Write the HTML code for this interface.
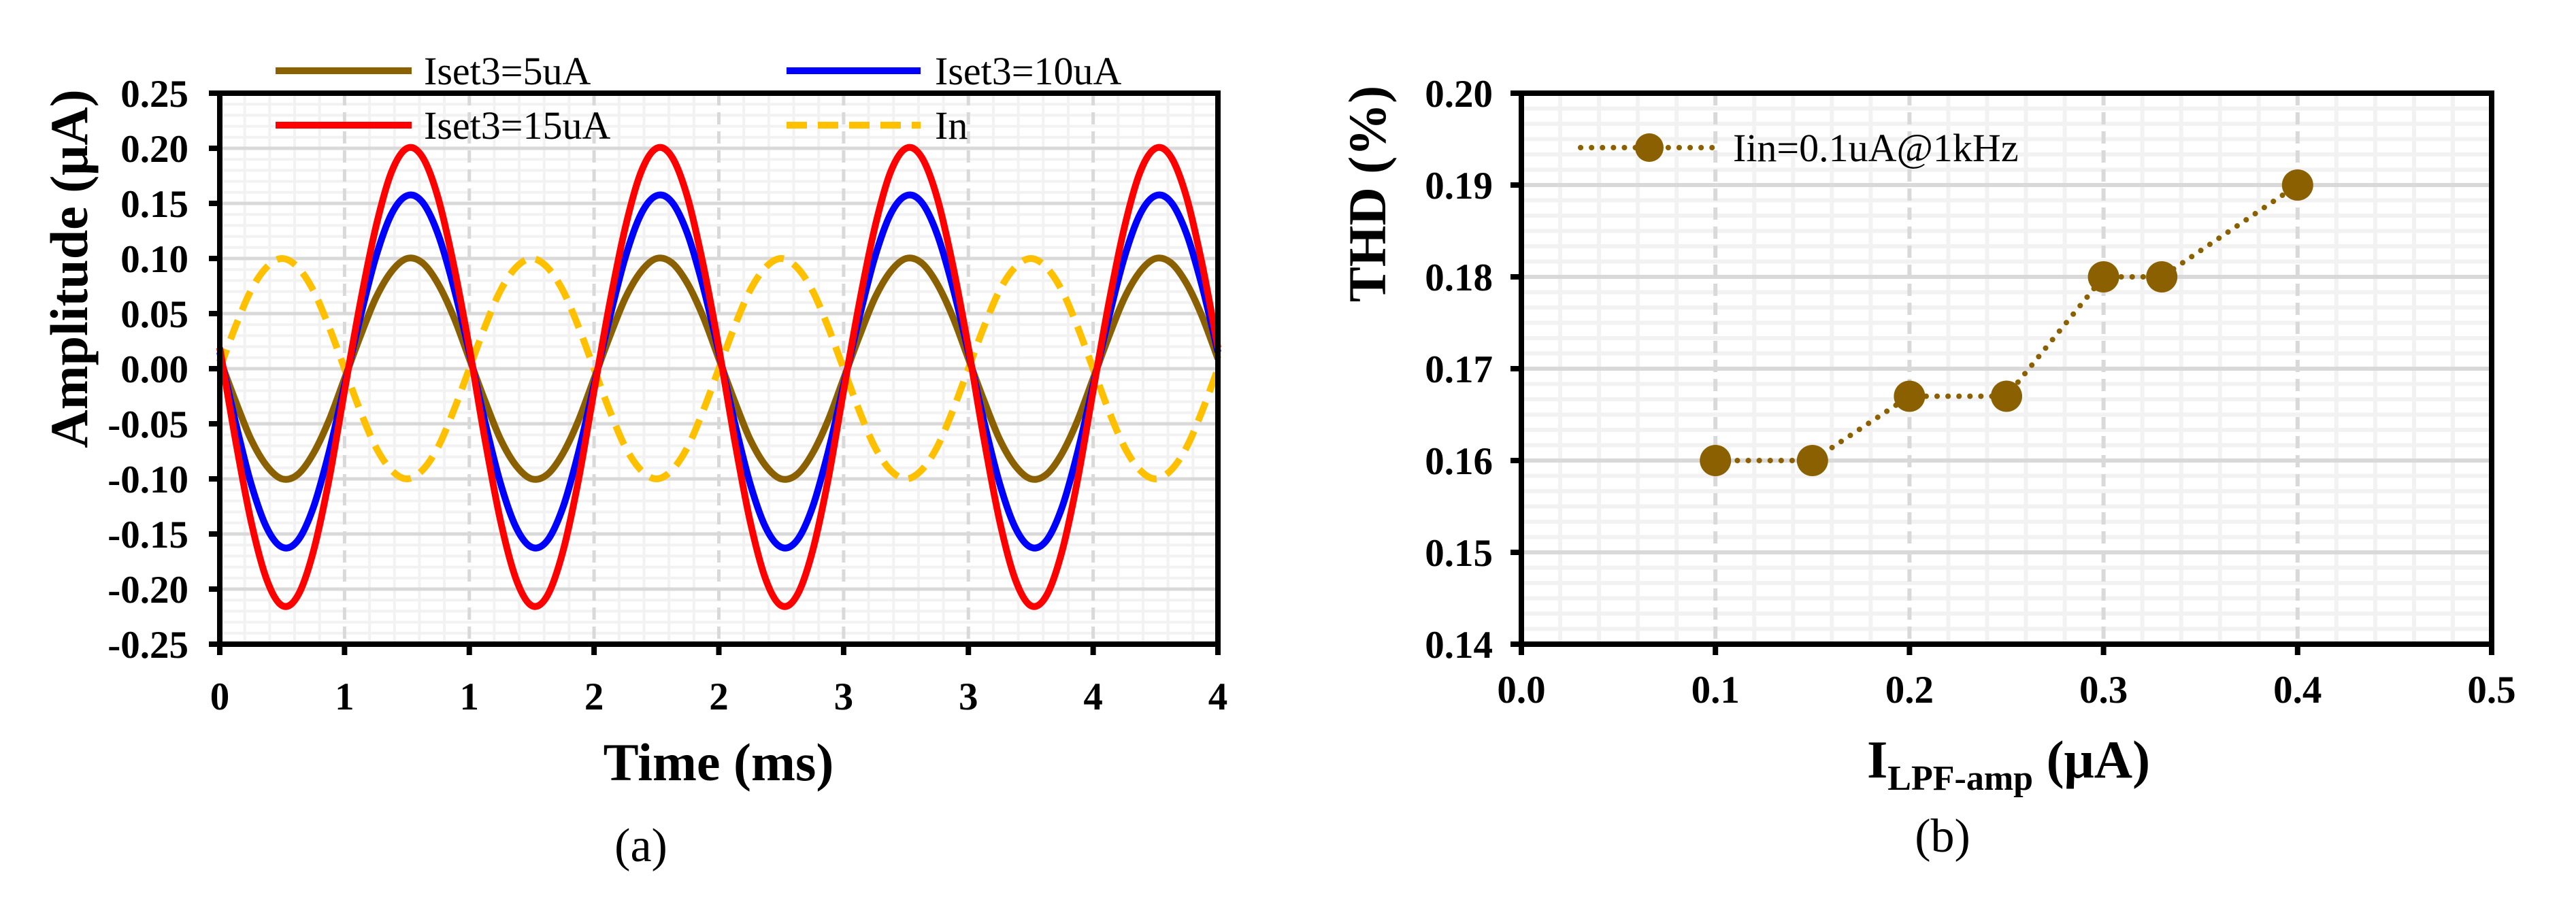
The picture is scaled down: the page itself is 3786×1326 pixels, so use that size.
<!DOCTYPE html>
<html><head><meta charset="utf-8">
<style>
html,body{margin:0;padding:0;background:#fff;}
svg{display:block;}
text{font-family:"Liberation Serif","DejaVu Serif",serif;}
</style></head>
<body>
<svg id="fig" width="3786" height="1326" viewBox="0 0 3786 1326" xmlns="http://www.w3.org/2000/svg" font-family="Liberation Serif, serif">
  <g id="chartA"></g>
  <g id="chartB"></g>
</svg>
<script>
// ---------- Chart (a) data: one period (1 ms) sampled every 1/16 ms, repeated over 4 ms ----------
const periodSamplesIset5 = [0.009,-0.029,-0.064,-0.088,-0.100,-0.096,-0.077,-0.047,-0.009,0.029,0.064,0.088,0.100,0.096,0.077,0.047];
const periodSamplesIset10 = [0.015,-0.048,-0.104,-0.144,-0.162,-0.156,-0.126,-0.076,-0.015,0.046,0.101,0.140,0.157,0.151,0.122,0.074];
const periodSamplesIset15 = [0.019,-0.064,-0.138,-0.191,-0.215,-0.206,-0.166,-0.101,-0.020,0.059,0.128,0.178,0.200,0.192,0.155,0.094];
const periodSamplesIn = [0,0.038,0.071,0.092,0.100,0.092,0.071,0.038,0,-0.038,-0.071,-0.092,-0.100,-0.092,-0.071,-0.038];
const periodsShown = 4;
const aYTicks = [-0.25,-0.20,-0.15,-0.10,-0.05,0.00,0.05,0.10,0.15,0.20,0.25];
const aXTicks = [0,0.5,1,1.5,2,2.5,3,3.5,4];
const aXTickLabels = ["0","1","1","2","2","3","3","4","4"];
const aLegend = ["Iset3=5uA","Iset3=10uA","Iset3=15uA","In"];

// ---------- Chart (b) data ----------
const bX = [0.1,0.15,0.2,0.25,0.3,0.33,0.4];
const bY = [0.16,0.16,0.167,0.167,0.18,0.18,0.19];
const bXTicks = [0.0,0.1,0.2,0.3,0.4,0.5];
const bXTickLabels = ["0.0","0.1","0.2","0.3","0.4","0.5"];
const bYTicks = [0.14,0.15,0.16,0.17,0.18,0.19,0.20];
const bYTickLabels = ["0.14","0.15","0.16","0.17","0.18","0.19","0.20"];
const bLegend = "Iin=0.1uA@1kHz";

const NS = "http://www.w3.org/2000/svg";
const FONT = "Liberation Serif, serif";
function mk(parent, tag, attrs, text){
  const e = document.createElementNS(NS, tag);
  for (const k in attrs) e.setAttribute(k, attrs[k]);
  if (tag === 'text') e.setAttribute('font-family', FONT);
  if (text !== undefined) e.textContent = text;
  parent.appendChild(e);
  return e;
}
function smoothPath(pts){
  let d = "M"+pts[0][0].toFixed(1)+","+pts[0][1].toFixed(1);
  for (let i=0;i<pts.length-1;i++){
    const p0=pts[Math.max(0,i-1)], p1=pts[i], p2=pts[i+1], p3=pts[Math.min(pts.length-1,i+2)];
    const c1x=p1[0]+(p2[0]-p0[0])/6, c1y=p1[1]+(p2[1]-p0[1])/6;
    const c2x=p2[0]-(p3[0]-p1[0])/6, c2y=p2[1]-(p3[1]-p1[1])/6;
    d+=" C"+c1x.toFixed(1)+","+c1y.toFixed(1)+" "+c2x.toFixed(1)+","+c2y.toFixed(1)+" "+p2[0].toFixed(1)+","+p2[1].toFixed(1);
  }
  return d;
}

// ================= Chart A =================
(function(){
  const g = document.getElementById('chartA');
  const L=323, R=1790, T=137, B=947;
  const xMin=0, xMax=4, yMin=-0.25, yMax=0.25;
  const xs = v => L + (v-xMin)/(xMax-xMin)*(R-L);
  const ys = v => B - (v-yMin)/(yMax-yMin)*(B-T);

  const grid = mk(g,'g',{});
  
  
  for (let i=0;i<aXTicks.length-1;i++){
    for (let j=1;j<5;j++){
      const v = aXTicks[i]+(aXTicks[i+1]-aXTicks[i])*j/5;
      mk(grid,'line',{x1:xs(v),x2:xs(v),y1:T,y2:B,stroke:'#f2f2f2','stroke-width':4});
    }
  }
  for (let i=0;i<aYTicks.length-1;i++){
    for (let j=1;j<5;j++){
      const v = aYTicks[i]+(aYTicks[i+1]-aYTicks[i])*j/5;
      mk(grid,'line',{x1:L,x2:R,y1:ys(v),y2:ys(v),stroke:'#f2f2f2','stroke-width':4});
    }
  }
  aYTicks.forEach(v=>mk(grid,'line',{x1:L,x2:R,y1:ys(v),y2:ys(v),stroke:'#d9d9d9','stroke-width':5}));
  aXTicks.forEach(v=>mk(grid,'line',{x1:xs(v),x2:xs(v),y1:T,y2:B,stroke:'#d9d9d9','stroke-width':5,'stroke-dasharray':'18,10'}));

  const series = [
    {vals:periodSamplesIset5, color:'#8B6000', dash:null, name:'series-iset3-5ua'},
    {vals:periodSamplesIset10, color:'#0000FF', dash:null, name:'series-iset3-10ua'},
    {vals:periodSamplesIset15, color:'#FF0000', dash:null, name:'series-iset3-15ua'},
    {vals:periodSamplesIn, color:'#FFC000', dash:'30,16', name:'series-in'}
  ];
  const order = [3,0,1,2];
  order.forEach(si=>{
    const s = series[si];
    const n = s.vals.length;
    const pts = [];
    for (let p=0;p<periodsShown;p++){
      for (let k=0;k<n;k++){
        const t = p + k/n;
        pts.push([xs(t), ys(s.vals[k])]);
      }
    }
    pts.push([xs(periodsShown), ys(s.vals[0])]);
    const path = mk(g,'path',{d:smoothPath(pts),fill:'none',stroke:s.color,'stroke-width':10,'stroke-linejoin':'round'});
    if (s.dash) path.setAttribute('stroke-dasharray', s.dash);
    
    
  });

  const ax = mk(g,'g',{});
  
  
  mk(ax,'rect',{x:L,y:T,width:R-L,height:B-T,fill:'none',stroke:'#000','stroke-width':8});
  aYTicks.forEach(v=>{
    mk(ax,'line',{x1:L-16,x2:L,y1:ys(v),y2:ys(v),stroke:'#000','stroke-width':8});
    const t = mk(ax,'text',{x:L-46,y:ys(v)+20,'text-anchor':'end','font-size':57,'font-weight':'bold'}, v.toFixed(2));
    
    
  });
  aXTicks.forEach((v,i)=>{
    mk(ax,'line',{x1:xs(v),x2:xs(v),y1:B,y2:B+16,stroke:'#000','stroke-width':8});
    const t = mk(ax,'text',{x:xs(v),y:1043,'text-anchor':'middle','font-size':57,'font-weight':'bold'}, aXTickLabels[i]);
    
    
  });
  const yt = mk(g,'text',{x:0,y:0,transform:'translate(128,395) rotate(-90)','text-anchor':'middle','font-size':78,'font-weight':'bold'},'Amplitude (μA)');
  
  
  const xt = mk(g,'text',{x:1056,y:1147,'text-anchor':'middle','font-size':78,'font-weight':'bold'},'Time (ms)');
  
  
  const cap = mk(g,'text',{x:942,y:1266,'text-anchor':'middle','font-size':70},'(a)');
  
  

  const leg = [
    {x1:405,x2:605,tx:623,y:104,color:'#8B6000',dash:null},
    {x1:1156,x2:1353,tx:1374,y:104,color:'#0000FF',dash:null},
    {x1:405,x2:605,tx:623,y:184,color:'#FF0000',dash:null},
    {x1:1156,x2:1353,tx:1374,y:184,color:'#FFC000',dash:'30,16'}
  ];
  leg.forEach((l,i)=>{
    const lg = mk(g,'g',{});
    
    
    const ln = mk(lg,'line',{x1:l.x1,x2:l.x2,y1:l.y,y2:l.y,stroke:l.color,'stroke-width':10});
    if (l.dash) ln.setAttribute('stroke-dasharray', l.dash);
    mk(lg,'text',{x:l.tx,y:l.y+20,'font-size':58},aLegend[i]);
  });
})();

// ================= Chart B =================
(function(){
  const g = document.getElementById('chartB');
  const L=2236, R=3662, T=137, B=947;
  const xMin=0, xMax=0.5, yMin=0.14, yMax=0.20;
  const xs = v => L + (v-xMin)/(xMax-xMin)*(R-L);
  const ys = v => B - (v-yMin)/(yMax-yMin)*(B-T);

  const grid = mk(g,'g',{});
  
  
  for (let i=0;i<bXTicks.length-1;i++){
    for (let j=1;j<5;j++){
      const v = bXTicks[i]+(bXTicks[i+1]-bXTicks[i])*j/5;
      mk(grid,'line',{x1:xs(v),x2:xs(v),y1:T,y2:B,stroke:'#f2f2f2','stroke-width':6});
    }
  }
  for (let i=0;i<bYTicks.length-1;i++){
    for (let j=1;j<6;j++){
      const v = bYTicks[i]+(bYTicks[i+1]-bYTicks[i])*j/6;
      mk(grid,'line',{x1:L,x2:R,y1:ys(v),y2:ys(v),stroke:'#f2f2f2','stroke-width':6});
    }
  }
  bYTicks.forEach(v=>mk(grid,'line',{x1:L,x2:R,y1:ys(v),y2:ys(v),stroke:'#d9d9d9','stroke-width':6}));
  bXTicks.forEach(v=>mk(grid,'line',{x1:xs(v),x2:xs(v),y1:T,y2:B,stroke:'#d9d9d9','stroke-width':6,'stroke-dasharray':'18,10'}));

  const pts = bX.map((x,i)=>xs(x).toFixed(1)+','+ys(bY[i]).toFixed(1)).join(' ');
  const pl = mk(g,'polyline',{points:pts,fill:'none',stroke:'#8B6000','stroke-width':8,'stroke-dasharray':'0.1,16','stroke-linecap':'round'});
  
  
  bX.forEach((x,i)=>{
    const c = mk(g,'circle',{cx:xs(x),cy:ys(bY[i]),r:23,fill:'#8B6000'});
    
    
  });

  const ax = mk(g,'g',{});
  
  
  mk(ax,'rect',{x:L,y:T,width:R-L,height:B-T,fill:'none',stroke:'#000','stroke-width':8});
  bYTicks.forEach((v,i)=>{
    mk(ax,'line',{x1:L-16,x2:L,y1:ys(v),y2:ys(v),stroke:'#000','stroke-width':8});
    const t = mk(ax,'text',{x:L-42,y:ys(v)+20,'text-anchor':'end','font-size':57,'font-weight':'bold'}, bYTickLabels[i]);
    
    
  });
  bXTicks.forEach((v,i)=>{
    mk(ax,'line',{x1:xs(v),x2:xs(v),y1:B,y2:B+16,stroke:'#000','stroke-width':8});
    const t = mk(ax,'text',{x:xs(v),y:1033,'text-anchor':'middle','font-size':57,'font-weight':'bold'}, bXTickLabels[i]);
    
    
  });
  const yt = mk(g,'text',{x:0,y:0,transform:'translate(2036,285) rotate(-90)','text-anchor':'middle','font-size':78,'font-weight':'bold'},'THD (%)');
  
  
  const xt = mk(g,'text',{x:2952,y:1143,'text-anchor':'middle','font-size':78,'font-weight':'bold'});
  
  
  mk(xt,'tspan',{},'I');
  mk(xt,'tspan',{'font-size':52,dy:18},'LPF-amp');
  mk(xt,'tspan',{dy:-18},' (μA)');
  const cap = mk(g,'text',{x:2855,y:1252,'text-anchor':'middle','font-size':70},'(b)');
  
  

  const lg = mk(g,'g',{});
  
  
  mk(lg,'line',{x1:2323,x2:2529,y1:217,y2:217,stroke:'#8B6000','stroke-width':8,'stroke-dasharray':'0.1,16','stroke-linecap':'round'});
  mk(lg,'circle',{cx:2424,cy:217,r:21,fill:'#8B6000'});
  mk(lg,'text',{x:2547,y:237,'font-size':58},bLegend);
})();
</script>
</body></html>
